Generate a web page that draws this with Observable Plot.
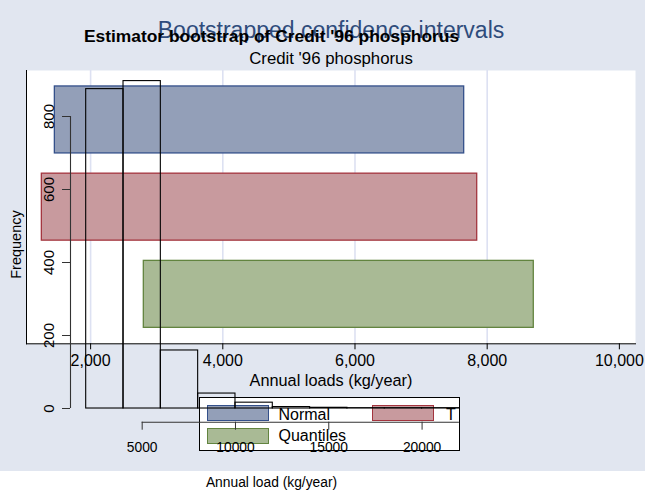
<!DOCTYPE html>
<html>
<head>
<meta charset="utf-8">
<script src="https://cdn.jsdelivr.net/npm/d3@7"></script>
<script src="https://cdn.jsdelivr.net/npm/@observablehq/plot@0.6"></script>
<style>
  html, body { margin: 0; padding: 0; background: #fff; }
  body { font-family: "Liberation Sans", Arial, Helvetica, sans-serif; }
  #wrap { position: relative; width: 645px; height: 493px; overflow: hidden; background: #fff; }
  #region { position: absolute; left: 0; top: 0; width: 645px; height: 471px; background: #e1e6f0; }
  #ci, #hist { position: absolute; left: 0; top: 0; }
  #legend { position: absolute; left: 199px; top: 397px; width: 261px; height: 54px;
            background: #fff; border: 1px solid #000; box-sizing: border-box; }
  .sw { position: absolute; width: 62px; height: 16px; box-sizing: border-box; border: 1.3px solid; }
  .lab { position: absolute; font-size: 16px; line-height: 16px; color: #000; white-space: nowrap; }
</style>
</head>
<body>
<div id="wrap">
  <div id="region"></div>
  <div id="ci"></div>
  <div id="legend"></div>
  <div id="hist"></div>
</div>
<script>
// Bootstrapped confidence intervals (kg/year) for the Credit '96 phosphorus load
const methods = ["Normal", "T", "Quantiles"];
const ciLower = [1459, 1262, 2805];
const ciUpper = [7652, 7849, 8705];
const estimate = [5846, 5846, 5846];
const methodFill = ["#939fb8", "#c89a9e", "#a9ba95"];
const methodStroke = ["#34508a", "#a3343e", "#62843f"];
const ciTicks = [2000, 4000, 6000, 8000, 10000];
const ciGrid = [2000, 4000, 6000, 8000];

// Histogram of the bootstrap replicates of the estimator
const binLower = [2000, 4000, 6000, 8000, 10000, 12000, 14000, 16000, 18000, 20000];
const binUpper = [4000, 6000, 8000, 10000, 12000, 14000, 16000, 18000, 20000, 22000];
const binCount = [875, 897, 159, 41, 16, 4, 2, 1, 1, 1];
const freqTicks = [0, 200, 400, 600, 800];
const loadTicks = [5000, 10000, 15000, 20000];

const font = "'Liberation Sans', Arial, Helvetica, sans-serif";

const ci = methods.map((m, i) => ({
  method: m, lo: ciLower[i], hi: ciUpper[i], est: estimate[i],
  fill: methodFill[i], stroke: methodStroke[i]
}));

const ciPlot = Plot.plot({
  width: 645,
  height: 471,
  marginLeft: 26,
  marginRight: 10,
  marginTop: 70,
  marginBottom: 127.7,
  style: { background: "transparent", fontFamily: font, color: "#000" },
  x: { domain: [1030, 10244] },
  y: { type: "band", domain: methods, paddingInner: 0.232, paddingOuter: 0.183, round: false, axis: null },
  marks: [
    Plot.frame({ fill: "#fff", stroke: null }),
    Plot.gridX(ciGrid, { stroke: "#dde1f2", strokeOpacity: 1, strokeWidth: 1.6 }),
    Plot.barX(ci, { x1: "lo", x2: "hi", y: "method", fill: "fill", stroke: "stroke", strokeWidth: 1.3 }),
    Plot.ruleX(ci, { x: "est", y: "method", stroke: "stroke", strokeWidth: 1.3 }),
    Plot.frame({ anchor: "left", stroke: "#000" }),
    Plot.frame({ anchor: "bottom", stroke: "#000" }),
    Plot.axisX({ ticks: ciTicks, tickFormat: d3.format(","), tickSize: 6, tickPadding: 5,
                 fontSize: 16, label: null, stroke: "#000" }),
    Plot.text(["Bootstrapped confidence intervals"], {
      text: d => d, frameAnchor: "top", dy: -32.3, lineAnchor: "bottom",
      fontSize: 23, fill: "#2f4c7c"
    }),
    Plot.text(["Credit '96 phosphorus"], {
      text: d => d, frameAnchor: "top", dy: -6.7, lineAnchor: "bottom",
      fontSize: 16.8, fill: "#000"
    }),
    Plot.text(["Annual loads (kg/year)"], {
      text: d => d, frameAnchor: "bottom", dy: 41.7, lineAnchor: "bottom",
      fontSize: 16.3, fill: "#000"
    })
  ]
});
document.getElementById("ci").appendChild(ciPlot);

// Legend for the interval methods
const legend = document.getElementById("legend");
const legendPos = { Normal: [7, 7, 78.5, 8.5], T: [172, 7, 246, 8.5], Quantiles: [7, 30, 78.5, 29.5] };
methods.forEach((m, i) => {
  const [sx, sy, tx, ty] = legendPos[m];
  const sw = document.createElement("div");
  sw.className = "sw";
  sw.style.left = sx + "px"; sw.style.top = sy + "px";
  sw.style.background = methodFill[i]; sw.style.borderColor = methodStroke[i];
  legend.appendChild(sw);
  const lb = document.createElement("div");
  lb.className = "lab";
  lb.style.left = tx + "px"; lb.style.top = ty + "px";
  lb.textContent = m;
  legend.appendChild(lb);
});

const bins = binLower.map((lo, i) => ({ lo, hi: binUpper[i], n: binCount[i] }));
const axisInk = "#333";

const histPlot = Plot.plot({
  width: 645,
  height: 493,
  marginLeft: 70,
  marginRight: 173,
  marginTop: 116,
  marginBottom: 71.3,
  style: { background: "transparent", fontFamily: font, color: "#000" },
  x: { domain: [1159, 22702] },
  y: { domain: [-37.5, 800] },
  marks: [
    Plot.rect(bins, { x1: "lo", x2: "hi", y1: 0, y2: "n", fill: "none", stroke: "#000", strokeWidth: 1.1 }),
    // y axis: line over the tick range, ticks and rotated labels
    Plot.ruleX([1159], { y1: freqTicks[0], y2: freqTicks[freqTicks.length - 1], stroke: axisInk, strokeWidth: 1.1 }),
    Plot.axisY({ ticks: freqTicks, tickSize: 8, tickFormat: () => "", label: null, stroke: axisInk }),
    Plot.text(freqTicks, { y: d => d, text: d => String(d), frameAnchor: "left", dx: -17,
                           rotate: -90, textAnchor: "middle", lineAnchor: "bottom", fontSize: 15 }),
    Plot.text(["Frequency"], { text: d => d, frameAnchor: "left", dx: -49.5, dy: -24.8,
                               rotate: -90, textAnchor: "middle", lineAnchor: "bottom", fontSize: 14.5 }),
    // x axis: line from the first tick to the end of the last bin, ticks and labels
    Plot.ruleY([-37.5], { x1: loadTicks[0], x2: binUpper[binUpper.length - 1], stroke: axisInk, strokeWidth: 1.1 }),
    Plot.axisX({ ticks: loadTicks, tickSize: 8, tickPadding: 12, tickFormat: d => String(d),
                 fontSize: 13.8, label: null, stroke: axisInk }),
    Plot.text(["Annual load (kg/year)"], { text: d => d, frameAnchor: "bottom", dy: 64.3,
                                           lineAnchor: "bottom", fontSize: 13.8 }),
    Plot.text(["Estimator bootstrap of Credit '96 phosphorus"], {
      text: d => d, frameAnchor: "top", dy: -74.3, lineAnchor: "bottom",
      fontSize: 17.4, fontWeight: "bold", fill: "#000"
    })
  ]
});
document.getElementById("hist").appendChild(histPlot);
</script>
</body>
</html>
